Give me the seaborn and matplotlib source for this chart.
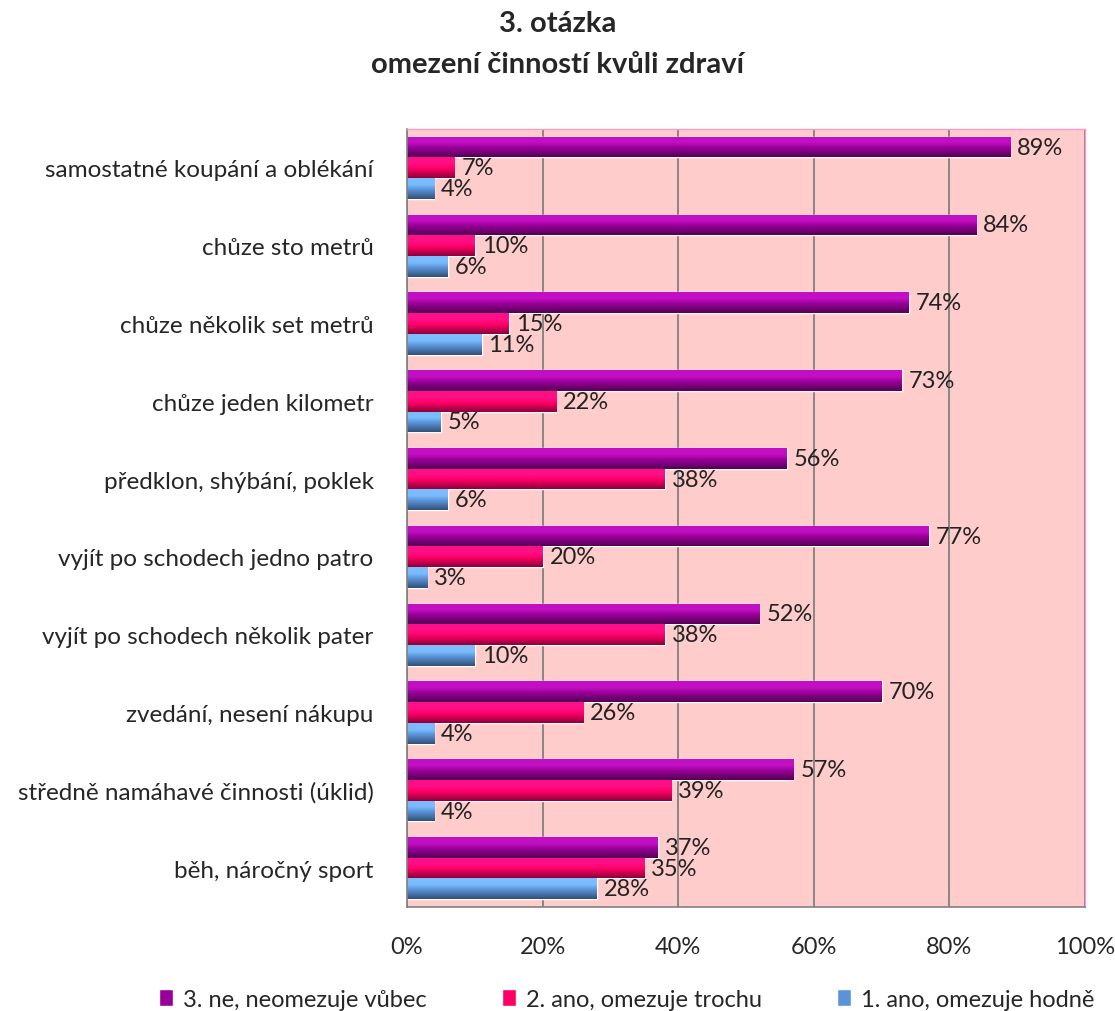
import numpy as np
import pandas as pd
import matplotlib
matplotlib.use("Agg")
import matplotlib.pyplot as plt
from matplotlib.colors import LinearSegmentedColormap, to_rgb
import seaborn as sns

categories = [
    "samostatné koupání a oblékání",
    "chůze sto metrů",
    "chůze několik set metrů",
    "chůze jeden kilometr",
    "předklon, shýbání, poklek",
    "vyjít po schodech jedno patro",
    "vyjít po schodech několik pater",
    "zvedání, nesení nákupu",
    "středně namáhavé činnosti (úklid)",
    "běh, náročný sport",
]
series_names = [
    "3. ne, neomezuje vůbec",
    "2. ano, omezuje trochu",
    "1. ano, omezuje hodně",
]
ne_vubec = [89, 84, 74, 73, 56, 77, 52, 70, 57, 37]
trochu = [7, 10, 15, 22, 38, 20, 38, 26, 39, 35]
hodne = [4, 6, 11, 5, 6, 3, 10, 4, 4, 28]
x_ticks = [0, 20, 40, 60, 80, 100]

colors = ["#990099", "#FF0066", "#5B93D8"]

rows = []
for name, vals in zip(series_names, [ne_vubec, trochu, hodne]):
    for cat, v in zip(categories, vals):
        rows.append({"kategorie": cat, "odpověď": name, "procento": v})
df = pd.DataFrame(rows)

sns.set_style("white")
plt.rcParams["font.family"] = ["Lato", "DejaVu Sans"]

fig = plt.figure(figsize=(11.15, 10.12), dpi=100)
ax = fig.add_axes([0.365, 0.1028, 0.608, 0.7688])

sns.barplot(
    data=df, y="kategorie", x="procento", hue="odpověď",
    order=categories, hue_order=series_names, palette=colors,
    orient="h", width=0.8, ax=ax, legend=True, errorbar=None,
    saturation=1,
)

ax.set_facecolor("#FFCCCC")

# cylinder-like shading on every bar
for container, col in zip(ax.containers, colors):
    r, g, b = to_rgb(col)
    light = tuple(min(1, c * 1.18 + 0.06) for c in (r, g, b))
    dark = tuple(c * 0.55 for c in (r, g, b))
    cmap = LinearSegmentedColormap.from_list(
        "cyl", [(0, light), (0.3, light), (0.55, (r, g, b)), (1, dark)])
    grad = np.linspace(0, 1, 64).reshape(-1, 1)
    for patch in container:
        x0, y0 = patch.get_x(), patch.get_y()
        w, h = patch.get_width(), patch.get_height()
        im = ax.imshow(grad, cmap=cmap, aspect="auto",
                       extent=(x0, x0 + w, y0 + h, y0), zorder=patch.get_zorder() + 0.1,
                       interpolation="bilinear")
        im.set_clip_path(patch)
    ax.bar_label(container, labels=[f"{int(round(p.get_width()))}%" for p in container],
                 padding=5, fontsize=17, color="#222222")

ax.set_xlim(0, 100)
ax.set_ylim(len(categories) - 0.5, -0.5)

ax.set_xticks(x_ticks)
ax.set_xticklabels([f"{t}%" for t in x_ticks], fontsize=17)
ax.xaxis.grid(True, color="#808080", linewidth=1.3)
ax.yaxis.grid(False)
ax.set_axisbelow(True)

ax.set_yticks(range(len(categories)))
ax.set_yticklabels(categories, fontsize=17.5)
ax.set_yticks(np.arange(-0.5, len(categories), 1), minor=True)
ax.tick_params(axis="y", which="major", length=0, pad=24)
ax.tick_params(axis="y", which="minor", length=7, color="#808080", width=1.2)
ax.tick_params(axis="x", length=7, color="#808080", width=1.2, pad=14)
ax.set_xlabel("")
ax.set_ylabel("")

for side in ["top", "right"]:
    ax.spines[side].set_color("#FF99CC")
    ax.spines[side].set_linewidth(1)
for side in ["left", "bottom"]:
    ax.spines[side].set_color("#808080")
    ax.spines[side].set_linewidth(1.2)

leg = ax.get_legend()
handles, labels = ax.get_legend_handles_labels()
leg.remove()
fig.legend(handles, labels, loc="center", bbox_to_anchor=(0.562, 0.0115),
           ncol=3, frameon=False, fontsize=17, handlelength=0.6, handleheight=0.7,
           columnspacing=3.2, handletextpad=0.4)

fig.text(0.5, 0.976, "3. otázka", ha="center", va="center",
         fontsize=21, fontweight="bold")
fig.text(0.5, 0.936, "omezení činností kvůli zdraví", ha="center", va="center",
         fontsize=21, fontweight="bold")

fig.savefig("out.png", dpi=100, facecolor="white")
